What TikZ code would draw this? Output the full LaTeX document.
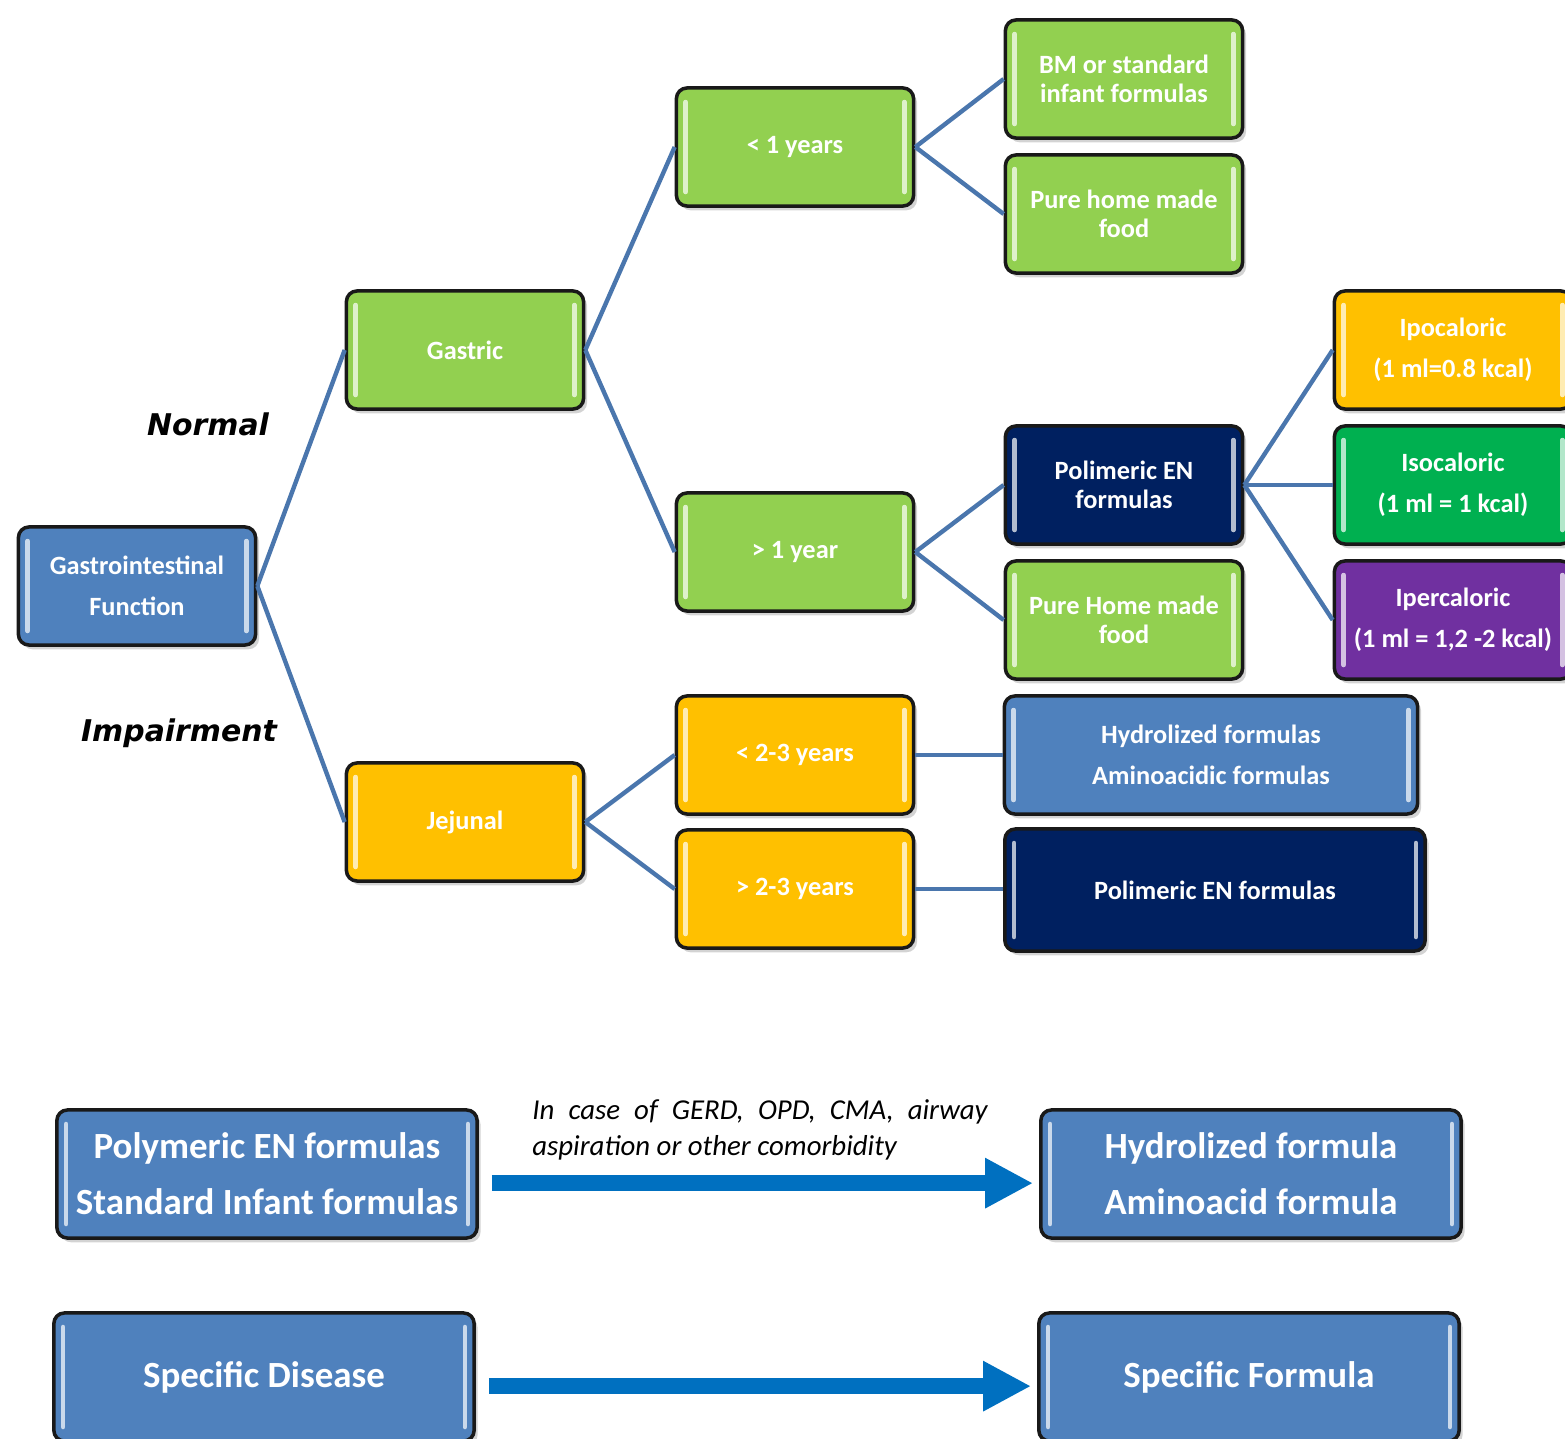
\documentclass[tikz,border=0pt]{standalone}
\usepackage{fontspec}
\usetikzlibrary{arrows.meta, shadows}
\setmainfont{Carlito}
\newfontfamily\verd{DejaVu Sans}

\definecolor{boxblue}{HTML}{4F81BD}
\definecolor{leafgreen}{HTML}{92D050}
\definecolor{amber}{HTML}{FFC000}
\definecolor{navy}{HTML}{002060}
\definecolor{isogreen}{HTML}{00B050}
\definecolor{purp}{HTML}{7030A0}
\definecolor{linkblue}{HTML}{4A76AD}
\definecolor{arrowblue}{HTML}{0070C0}

\tikzset{
  flowbox/.style={draw=black!90, line width=1pt, rounded corners=3pt, fill=#1,
    text=white, align=center, font=\bfseries\fontsize{7.5}{8.3}\selectfont,
    minimum width=2.37cm, minimum height=1.18cm,
    drop shadow={opacity=0.35, shadow xshift=1pt, shadow yshift=-1.2pt},
    path picture={
      \draw[#1!30!white, line width=1.3pt, line cap=round]
        ([xshift=2.6pt, yshift=-4pt]path picture bounding box.north west)
        -- ([xshift=2.6pt, yshift=4pt]path picture bounding box.south west);
      \draw[#1!30!white, line width=1.3pt, line cap=round]
        ([xshift=-2.6pt, yshift=-4pt]path picture bounding box.north east)
        -- ([xshift=-2.6pt, yshift=4pt]path picture bounding box.south east);
    }},
  bigbox/.style={flowbox=#1, font=\bfseries\fontsize{10.5}{16}\selectfont,
    minimum width=4.2cm, minimum height=1.28cm},
  link/.style={linkblue, line width=1.25pt},
  bigarrow/.style={arrowblue, line width=4.6pt, shorten <=0.13cm, shorten >=0.06cm,
    -{Triangle[length=0.48cm, width=0.47cm]}},
  side/.style={font=\verd\bfseries\itshape\fontsize{8.5}{10}\selectfont}
}

\begin{document}
\begin{tikzpicture}[x=0.01cm, y=-0.01cm]
    \useasboundingbox (0,0) rectangle (1565,1439);

    % tree
    \node [flowbox=boxblue] (gi) at (137,586) {Gastrointestinal\\[3.3pt]Function};
    \node [flowbox=leafgreen] (gastric) at (465,350) {Gastric};
    \node [flowbox=amber] (jejunal) at (465,822) {Jejunal};
    \node [side] (normal) at (208,424) {Normal};
    \node [side] (impair) at (179,733) {Impairment};

    \node [flowbox=leafgreen] (lt1) at (795,147) {< 1 years};
    \node [flowbox=leafgreen] (gt1) at (795,552) {> 1 year};
    \node [flowbox=amber] (lt23) at (795,755) {< 2-3 years};
    \node [flowbox=amber] (gt23) at (795,889) {> 2-3 years};

    \node [flowbox=leafgreen] (bm) at (1124,79) {BM or standard\\infant formulas};
    \node [flowbox=leafgreen] (phm) at (1124,214) {Pure home made\\food};
    \node [flowbox=navy] (pen) at (1124,485) {Polimeric EN\\formulas};
    \node [flowbox=leafgreen] (phm2) at (1124,620) {Pure Home made\\food};
    \node [flowbox=boxblue, minimum width=4.13cm] (hyd) at (1211,755) {Hydrolized formulas\\[3.3pt]Aminoacidic formulas};
    \node [flowbox=navy, minimum width=4.2cm, minimum height=1.22cm] (pen2) at (1215,890) {Polimeric EN formulas};

    \node [flowbox=amber] (ipo) at (1453,350) {Ipocaloric\\[3.3pt](1 ml=0.8 kcal)};
    \node [flowbox=isogreen] (iso) at (1453,485) {Isocaloric\\[3.3pt](1 ml = 1 kcal)};
    \node [flowbox=purp] (iper) at (1453,620) {Ipercaloric\\[3.3pt](1 ml = 1,2 -2 kcal)};

    \draw [link] (gi.east) -- (gastric.west);
    \draw [link] (gi.east) -- (jejunal.west);
    \draw [link] (gastric.east) -- (lt1.west);
    \draw [link] (gastric.east) -- (gt1.west);
    \draw [link] (jejunal.east) -- (lt23.west);
    \draw [link] (jejunal.east) -- (gt23.west);
    \draw [link] (lt1.east) -- (bm.west);
    \draw [link] (lt1.east) -- (phm.west);
    \draw [link] (gt1.east) -- (pen.west);
    \draw [link] (gt1.east) -- (phm2.west);
    \draw [link] (pen.east) -- (ipo.west);
    \draw [link] (pen.east) -- (iso.west);
    \draw [link] (pen.east) -- (iper.west);
    \draw [link] (lt23.east) -- (hyd.west);
    \draw [link] (gt23.east) -- (gt23.east -| pen2.west);

    % bottom rows
    \node [bigbox=boxblue] (pe) at (267,1174) {Polymeric EN formulas\\Standard Infant formulas};
    \node [bigbox=boxblue] (hf) at (1251,1174) {Hydrolized formula\\Aminoacid formula};
    \node [bigbox=boxblue] (sd) at (264,1377) {Specific Disease};
    \node [bigbox=boxblue] (sf) at (1249,1377) {Specific Formula};
    \draw [bigarrow] ([yshift=-2.6pt]pe.east) -- ([yshift=-2.6pt]hf.west);
    \draw [bigarrow] ([yshift=-2.6pt]sd.east) -- ([yshift=-2.6pt]sf.west);
    \node [text width=4.55cm, align=justify, inner sep=0pt,
        font=\itshape\fontsize{8.2}{10.2}\selectfont] (note) at (760,1130)
        {\hyphenpenalty=10000 In case of GERD, OPD, CMA, airway\linebreak aspiration or other comorbidity};
\end{tikzpicture}
\end{document}
